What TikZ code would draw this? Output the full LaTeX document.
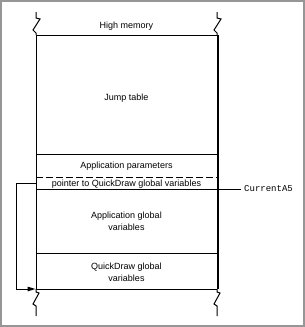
\documentclass[tikz,border=0pt]{standalone}
\usepackage{fontspec}
\setmainfont{Liberation Sans}
\newfontfamily\mmmonofont{Liberation Mono}
\usepackage{tikz}
\usetikzlibrary{arrows.meta,positioning}
\definecolor{mmframe}{RGB}{150,150,150}
\tikzset{
  mmline/.style={draw=black, line width=1pt},
  mmedge/.style={draw=black, line width=2pt},
  mmdash/.style={draw=black, line width=1pt, dash pattern=on 7pt off 3pt},
  mmlabel/.style={align=center, font=\fontsize{9}{12}\selectfont, inner sep=1pt},
  mmmono/.style={font=\mmmonofont\fontsize{9}{11}\selectfont, inner sep=1pt},
  mmarr/.style={-{Triangle[length=8pt,width=4.5pt]}, line width=1pt, draw=black}
}

\begin{document}
\begin{tikzpicture}[x=1pt, y=-1pt]
  \useasboundingbox (0,0) rectangle (305,327);
  \draw[mmframe, line width=2pt] (1,1) rectangle (304,326);
  % broken ends of the memory column
  \draw[mmline] (36,12) -- (36,18) -- (40,19) -- (33,30) -- (36,33) -- (36,35);
  \draw[mmline] (217,12) -- (217,18) -- (221,19) -- (214,30) -- (217,33) -- (217,35);
  \draw[mmline] (36,289) -- (36,292) -- (39,293) -- (33,304) -- (36,306) -- (36,316);
  \draw[mmline] (217,289) -- (217,292) -- (220,293) -- (214,304) -- (217,306) -- (217,316);
  % column and partitions
  \draw[mmline] (36,35) -- (36,289);
  \draw[mmedge] (217.5,35) -- (217.5,289);
  \draw[mmline] (36,35) -- (217,35);
  \draw[mmline] (36,154) -- (217,154);
  \draw[mmdash] (36,177) -- (217,177);
  \draw[mmline] (36,189) -- (217,189);
  \draw[mmline] (36,253) -- (217,253);
  \draw[mmline] (36,289) -- (217,289);
  % labels
  \node[mmlabel] (high) at (126.5,26) {High memory};
  \node[mmlabel] (jump) at (126.5,98) {Jump table};
  \node[mmlabel] (params) at (126.5,166) {Application parameters};
  \node[mmlabel] (qdptr) at (126.5,183.8) {pointer to QuickDraw global variables};
  \node[mmlabel] (appvars) at (126.5,221) {Application global\\variables};
  \node[mmlabel] (qdvars) at (126.5,272) {QuickDraw global\\variables};
  % register mark
  \coordinate (a5tick) at (217,189);
  \node[mmmono, anchor=west] (cura5) at (243,189) {CurrentA5};
  \draw[mmline, shorten >=2pt] (a5tick) -- (cura5.west);
  % pointer arrow
  \coordinate (ptrstart) at (36,183);
  \coordinate (ptrend) at (35.5,289);
  \draw[mmarr] (ptrstart) -- ++(-20,0) |- (ptrend);
\end{tikzpicture}
\end{document}
